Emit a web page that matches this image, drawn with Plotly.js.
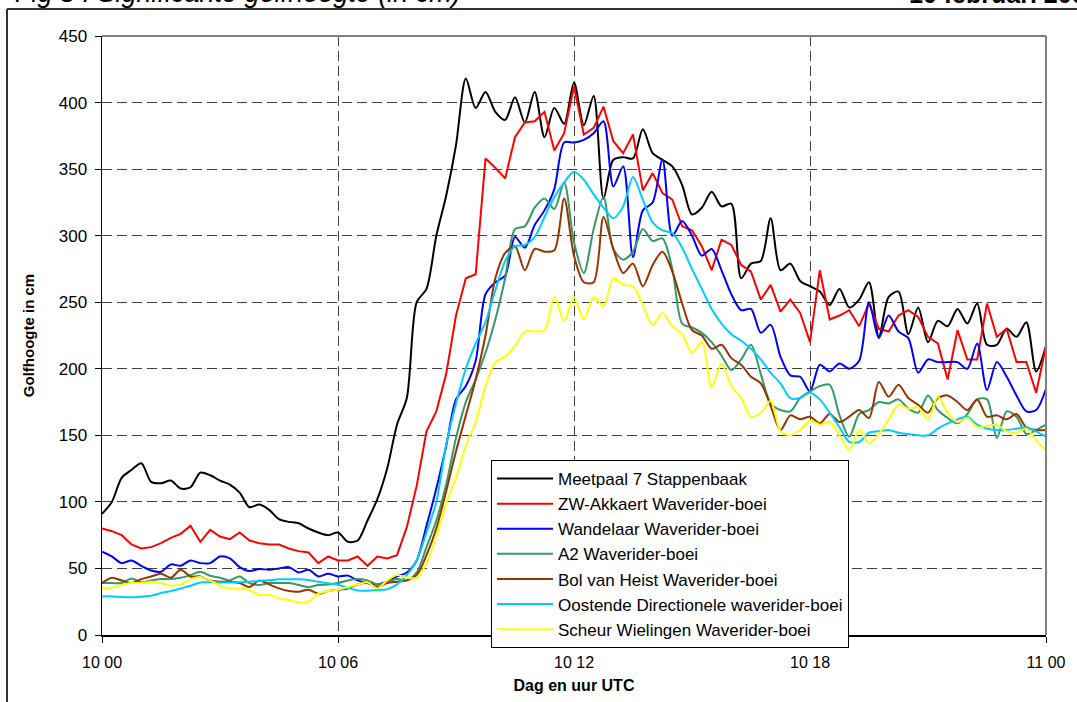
<!DOCTYPE html>
<html>
<head>
<meta charset="utf-8">
<script src="https://cdn.plot.ly/plotly-3.0.1.min.js"></script>
<style>html,body{margin:0;padding:0;background:#fff;}#chart{width:1077px;height:702px;}</style>
</head>
<body>
<div id="chart"></div>
<script>
// Time axis: quarter-hour samples from 10 feb 00:00 to 11 feb 00:00 (hours since 10 00)
const stepHours = 0.25;
const tickHours = [0, 6, 12, 18, 24];
const tickLabels = ["10 00", "10 06", "10 12", "10 18", "11 00"];

const seriesNames = [
  "Meetpaal 7 Stappenbaak",
  "ZW-Akkaert Waverider-boei",
  "Wandelaar Waverider-boei",
  "A2 Waverider-boei",
  "Bol van Heist Waverider-boei",
  "Oostende Directionele waverider-boei",
  "Scheur Wielingen Waverider-boei"
];

const meetpaal7 = [91,100,118,124,129,115,114,116,110,111,122,120,116,113,107,96,98,94,87,85,84,80,77,75,77,
  70,71,86,102,125,158,178,250,260,300,330,368,418,396,408,393,387,404,385,408,374,396,384,415,
  383,405,328,357,359,358,380,362,357,352,338,316,321,333,322,324,268,279,281,313,274,279,266,262,
  258,248,260,246,252,265,224,254,258,226,246,220,236,232,245,234,249,218,218,230,224,235,198,217];

const zwAkkaert = [80,78,75,68,65,66,69,73,76,82,70,79,74,72,77,71,69,68,68,65,63,62,54,59,56,
  56,59,52,59,57.5,60,81,112,153,168,196,240,268,271,358,351,343,374,385,386,393,364,377,412,
  376,381,397,371,362,376,334,347,332,327,307,304,292,274,297,293,278,273,252,263,243,252,242,220,
  274,237,240,244,232,249,230,228,240,244,239,224,219,192,229,207,207,249,224,230,205,205,182,217];

const wandelaar = [62.6,59,54,56,52,48.5,47.5,53,52,56,54,54,59,57.6,51,48,49.6,49,50,51,47,49,44,46,44,
  44.6,41,39,38,40,44,47,56,82,110,142,177,187,206,256,265,270,299,291,308,319,335,370,370,
  372,377,386,337,352,284,319,325,357,300,311,300,285,290,274,256,244,245,227,233,209,195,194,183,
  203,198,204,200,206,250,223,240,228,223,197,207,205,205,205,200,219,184,205,194,180,168,169,185];

const a2 = [39,39,39,42.5,39.5,41,42,42,43,45,47.5,44.5,43,41,44,39,37.6,39,39,39,37.6,36,37.6,38,39,
  41,42,41,38,40,42,41,47,66,86,113,148,175,192,212,237,268,305,307,321,328,320,340,295,
  272,305,329,290,282,288,305,296,298,275,234,231,227,220,210,199,207,218,196,174,169,168,178,183,
  187,188,165,149,166,169,175,174,177,170,167,180,169,163,159,166,177,177,148,168,164,151,154,158];

const bolVanHeist = [39,43,41,39,42,44,46,43,49,44,44,41,40,40,39,36,41,38,35,33,32.5,34,31,33,34,
  35,38,39,36,39,40,41,45,60,80,108,138,165,192,225,268,287,292,274,290,288,289,328,285,
  265,265,314,290,272,279,262,278,288,273,249,229,225,215,218,208,203,194,189,172,154,165,162,164,
  159,166,160,164,169,163,190,179,188,178,173,167,178,180,175,169,177,164,165,162,166,156,154,154];

const oostende = [29,29,28.5,28.3,28.8,29.5,31.5,33,35,37,39.5,39.6,39.5,39.5,39.6,40,40.6,41.2,41.8,41.8,41.8,41.3,40,38.8,37.8,
  35.5,33.5,33.3,33.8,34.3,38,45,56,77,100,143,174,200,219,235,259,281,292,293,299,314,329,340,348,
  342,331,321,313,322,344,327,310,304,302,291,275,260,245,234,226,221,215,207,197,189,178,178,182,
  177,167,156,145,145,152,153,154,152,151,150,150,155,159,162,164,158,155,154,154,155,156,153,149];

const scheurWielingen = [35,35.5,37.6,39,39,40,39,37,38,42,43.5,41,37,35,35,34,30,30,27.5,26.3,24.5,25,31,33,34,
  36,38,39.6,35,41,45,43,43,54,74,99,118,142,160,187,205,209,217,228,228,229,254,236,254,
  237,254,247,268,263,262,248,233,242,232,226,212,220,186,204,187,178,164,167,176,153,150,154,161,
  158,160,150,139,154,144,151,162,173,170,171,162,179,167,160,163,156,157,158,153,152,155,146,139];

const seriesValues = [meetpaal7, zwAkkaert, wandelaar, a2, bolVanHeist, oostende, scheurWielingen];
const seriesColors = ["#000000", "#FF0000", "#0000FF", "#339966", "#993300", "#00CCFF", "#FFFF00"];
const seriesShapes = ["spline", "linear", "spline", "spline", "spline", "spline", "spline"];

const hours = meetpaal7.map((_, i) => i * stepHours);

const traces = seriesValues.map((vals, k) => ({
  type: "scatter",
  mode: "lines",
  name: seriesNames[k],
  x: hours,
  y: vals,
  line: {color: seriesColors[k], width: 2, shape: seriesShapes[k], smoothing: 0.8},
  hoverinfo: "x+y+name"
}));

const FONT = "Arial, 'Liberation Sans', Helvetica, sans-serif";
const W = 1077, H = 702, L = 102, R = 31, T = 36, B = 67;
const pw = W - L - R, ph = H - T - B;
const px2x = p => (p - L) / pw;
const py2y = p => (H - B - p) / ph;

const layout = {
  width: W, height: H,
  margin: {l: L, r: R, t: T, b: B, pad: 0},
  paper_bgcolor: "#ffffff",
  plot_bgcolor: "#ffffff",
  font: {family: FONT, size: 15, color: "#000000"},
  showlegend: true,
  legend: {
    x: px2x(491), y: py2y(460), xanchor: "left", yanchor: "top",
    bgcolor: "#ffffff", bordercolor: "#000000", borderwidth: 1,
    font: {family: FONT, size: 17, color: "#000000"},
    itemwidth: 56, tracegroupgap: 0, traceorder: "normal",
    entrywidth: 376, entrywidthmode: "pixels"
  },
  xaxis: {
    range: [0, 24], tickvals: tickHours, ticktext: tickLabels,
    ticks: "outside", ticklen: 6, tickwidth: 1, tickcolor: "#000000",
    ticklabelstandoff: 6,
    showline: true, linecolor: "#000000", linewidth: 1.5,
    showgrid: true, gridcolor: "#404040", gridwidth: 1, griddash: "10px,5px",
    zeroline: false, tickfont: {family: FONT, size: 16},
    title: {text: "<b>Dag en uur UTC</b>", font: {family: FONT, size: 16}, standoff: 10},
    fixedrange: true
  },
  yaxis: {
    range: [0, 450], dtick: 50, tick0: 0,
    ticks: "outside", ticklen: 6, tickwidth: 1, tickcolor: "#000000",
    ticklabelstandoff: 4,
    showline: true, linecolor: "#000000", linewidth: 1.5,
    showgrid: true, gridcolor: "#404040", gridwidth: 1, griddash: "10px,5px",
    zeroline: false, tickfont: {family: FONT, size: 17},
    title: {text: "<b>Golfhoogte in cm</b>", font: {family: FONT, size: 15}, standoff: 20},
    fixedrange: true
  },
  shapes: [
    {type: "line", xref: "paper", yref: "paper", x0: 1, x1: 1, y0: 0, y1: 1, line: {color: "#808080", width: 2}},
    {type: "line", xref: "paper", yref: "paper", x0: 0, x1: 1, y0: 1, y1: 1, line: {color: "#808080", width: 2}},
    {type: "line", xref: "paper", yref: "paper", x0: px2x(7), x1: px2x(7), y0: py2y(9), y1: py2y(710), line: {color: "#333333", width: 2}},
    {type: "line", xref: "paper", yref: "paper", x0: px2x(7), x1: px2x(1090), y0: py2y(9), y1: py2y(9), line: {color: "#333333", width: 2}}
  ],
  annotations: [
    {text: "<i>Fig 8 : Significante golfhoogte (in cm)</i>", xref: "paper", yref: "paper",
     x: px2x(13), y: py2y(10), xanchor: "left", yanchor: "bottom", showarrow: false,
     font: {family: FONT, size: 27, color: "#000000"}},
    {text: "<b>10 februari 2009</b>", xref: "paper", yref: "paper",
     x: px2x(907), y: py2y(10), xanchor: "left", yanchor: "bottom", showarrow: false,
     font: {family: FONT, size: 25, color: "#000000"}}
  ]
};

Plotly.newPlot("chart", traces, layout, {displayModeBar: false, staticPlot: true});
</script>
</body>
</html>
